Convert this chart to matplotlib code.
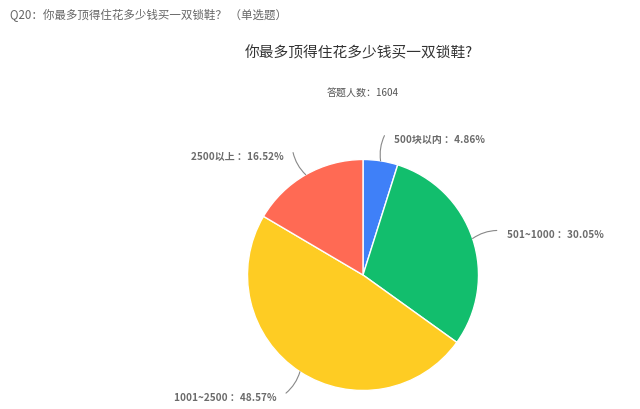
import numpy as np
import matplotlib
matplotlib.use('Agg')
from matplotlib import pyplot as plt

plt.rcParams['font.family'] = ['Noto Sans CJK SC', 'DejaVu Sans']

# survey answers
categories = ['500块以内', '501~1000', '1001~2500', '2500以上']
shares = [4.86, 30.05, 48.57, 16.52]
colors = ['#3F80F8', '#12BE6D', '#FECC23', '#FF6A54']

header = 'Q20：你最多顶得住花多少钱买一双锁鞋？ （单选题）'
title = '你最多顶得住花多少钱买一双锁鞋?'
subtitle = '答题人数：1604'

W, H = 640, 410
fig = plt.figure(figsize=(W / 100, H / 100), dpi=100)
ax = fig.add_axes([0, 0, 1, 1])

cx, cy, r = 363, H - 276, 115.5

wedges, _ = ax.pie(shares, colors=colors, startangle=90, counterclock=False,
                   center=(cx, cy), radius=r, frame=True,
                   wedgeprops=dict(edgecolor='white', linewidth=1))
ax.set_xlim(0, W)
ax.set_ylim(0, H)
ax.set_aspect('equal')
ax.axis('off')

# labels with leader lines
for w, cat, v in zip(wedges, categories, shares):
    ang = np.deg2rad((w.theta1 + w.theta2) / 2)
    x0, y0 = cx + r * np.cos(ang), cy + r * np.sin(ang)
    x1, y1 = cx + 141 * np.cos(ang), cy + 141 * np.sin(ang)
    right = np.cos(ang) > 0
    ax.annotate('', xy=(x0, y0), xytext=(x1, y1),
                arrowprops=dict(arrowstyle='-', color='#888888', lw=0.8,
                                shrinkA=0, shrinkB=0,
                                connectionstyle='arc3,rad=0.15'))
    tx = x1 + (10 if right else -9)
    ax.text(tx, y1 - 3.5, f'{cat} ：{v:.2f}%', ha='left' if right else 'right',
            va='center', fontsize=7.2, fontweight='bold', color='#6b6b6b')

fig.text(10 / W, 1 - 15 / H, header, fontsize=8.3, color='#666666', va='center')
fig.text(359 / W, 1 - 53 / H, title, fontsize=10.6, color='#333333',
         ha='center', va='center')
fig.text(363 / W, 1 - 93 / H, subtitle, fontsize=7.2, color='#555555',
         ha='center', va='center')

fig.savefig('out.png', dpi=100)
